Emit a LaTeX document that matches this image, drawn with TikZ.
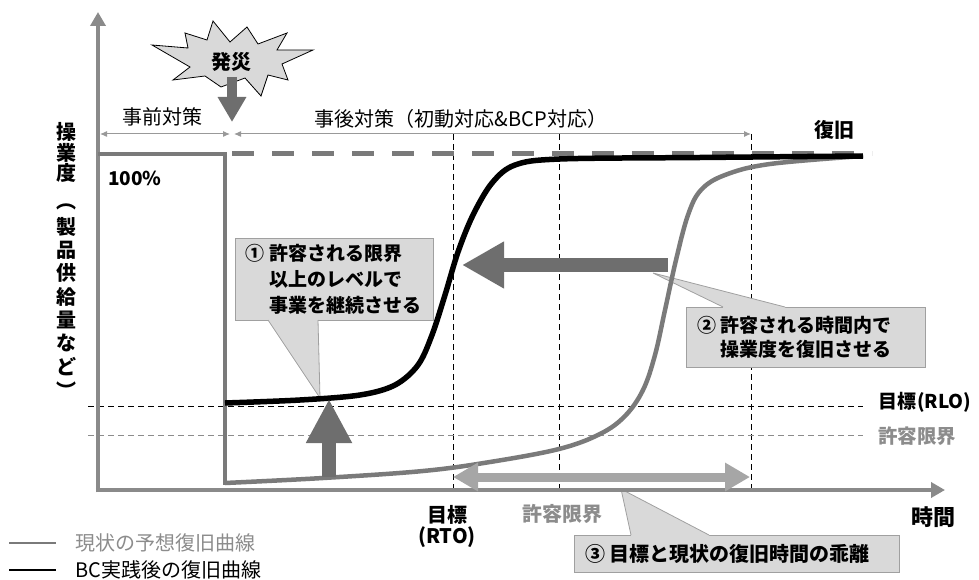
\documentclass[tikz,border=0pt]{standalone}
\usepackage{fontspec}
\setmainfont{Noto Sans CJK JP}
\usetikzlibrary{arrows.meta,calc}
\definecolor{axisgray}{HTML}{8A8A8A}
\definecolor{curvegray}{HTML}{7A7A7A}
\definecolor{arrowdark}{HTML}{6E6E6E}
\definecolor{boxfill}{HTML}{D9D9D9}
\definecolor{boxline}{HTML}{A0A0A0}
\definecolor{lightarrow}{HTML}{A6A6A6}
\definecolor{dimgray}{HTML}{999999}
\definecolor{labelgray}{HTML}{8C8C8C}
\begin{document}
\begin{tikzpicture}[x=1pt,y=-1pt,
 txt/.style={inner sep=0pt,font=\fontsize{20pt}{23pt}\selectfont},
 btxt/.style={inner sep=0pt,font=\fontsize{19pt}{23pt}\selectfont\bfseries},
 axisline/.style={draw=axisgray,line width=4.5pt,-{Triangle[width=15pt,length=14pt]}},
 dimline/.style={draw=dimgray,line width=1pt,{Latex[length=7pt,width=6pt]}-{Latex[length=7pt,width=6pt]}},
 vdash/.style={draw=black,line width=0.9pt,dash pattern=on 6pt off 4pt},
 hdash/.style={line width=1pt,dash pattern=on 6pt off 4pt},
 levelline/.style={draw=curvegray,line width=4.5pt},
 bcurve/.style={draw=black,line width=5.5pt},
 gcurve/.style={draw=curvegray,line width=4.5pt},
 fatarrow/.style={draw=arrowdark,line width=14pt,-{Triangle[width=44pt,length=42pt]}},
 calloutbox/.style={fill=boxfill,draw=boxline,line width=0.8pt,inner ysep=0pt,align=left,font=\fontsize{19pt}{26pt}\selectfont\bfseries},
 tailfill/.style={fill=boxfill},
 tailline/.style={draw=boxline,line width=0.8pt},
 ychar/.style={inner sep=0pt,font=\fontsize{20pt}{20pt}\selectfont\bfseries},
]
\useasboundingbox (0,0) rectangle (979,580);

% dashed guide lines
\coordinate (v1t) at (453,134); \coordinate (v1b) at (453,490);
\coordinate (v2t) at (559,134); \coordinate (v2b) at (559,490);
\coordinate (v3t) at (751,134); \coordinate (v3b) at (751,490);
\draw[vdash] (v1t) -- (v1b);
\draw[vdash] (v2t) -- (v2b);
\draw[vdash] (v3t) -- (v3b);
\coordinate (h1a) at (88,406); \coordinate (h1b) at (863,406);
\coordinate (h2a) at (88,435); \coordinate (h2b) at (863,435);
\draw[hdash,draw=black] (h1a) -- (h1b);
\draw[hdash,draw=labelgray] (h2a) -- (h2b);

% callout boxes
\node[calloutbox,text width=178pt,inner xsep=10pt,minimum height=82pt] (b1) at (334,279)
  {①\hspace{5pt}許容される限界\\\hspace*{24pt}以上のレベルで\\\hspace*{24pt}事業を継続させる};
\coordinate (t1a) at (268,320); \coordinate (t1tip) at (320,398); \coordinate (t1b) at (318,320);
\fill[tailfill] (t1a) -- ++(0,-1.5) -- ($(t1b)+(0,-1.5)$) -- (t1b) -- (t1tip) -- cycle;
\draw[tailline] (t1a) -- (t1tip) -- (t1b);

\node[calloutbox,text width=217pt,inner xsep=11pt,minimum height=60pt,font=\fontsize{19pt}{24pt}\selectfont\bfseries] (b2) at (805.5,337)
  {②\hspace{4pt}許容される時間内で\\\hspace*{23pt}操業度を復旧させる};
\coordinate (t2a) at (723,307); \coordinate (t2tip) at (653,273); \coordinate (t2b) at (785,307);
\fill[tailfill] (t2a) -- ++(0,1.5) -- ($(t2b)+(0,1.5)$) -- (t2b) -- (t2tip) -- cycle;
\draw[tailline] (t2a) -- (t2tip) -- (t2b);

\node[calloutbox,text width=303pt,inner xsep=11pt,minimum height=37pt,font=\fontsize{20pt}{24pt}\selectfont\bfseries] (b3) at (736.5,553.5)
  {③\hspace{4pt}目標と現状の復旧時間の乖離};
\coordinate (t3a) at (631,535); \coordinate (t3tip) at (621,489); \coordinate (t3b) at (709,535);
\fill[tailfill] (t3a) -- ++(0,1.5) -- ($(t3b)+(0,1.5)$) -- (t3b) -- (t3tip) -- cycle;
\draw[tailline] (t3a) -- (t3tip) -- (t3b);

% axes
\coordinate (ytip) at (98,12);
\coordinate (xtip) at (945,490);
\coordinate (ybot) at (98,492.25);
\coordinate (xleft) at (95.75,490);
\draw[axisline] (ybot) -- (ytip);
\draw[axisline] (xleft) -- (xtip);

% 100% level and drop
\coordinate (p100a) at (98,154); \coordinate (p100b) at (225,154); \coordinate (pdrop) at (225,485);
\draw[levelline,line join=miter] (p100a) -- (p100b) -- (pdrop);
\coordinate (d1) at (232,154); \coordinate (d2) at (872,154);
\draw[levelline,line width=5pt,dash pattern=on 22pt off 18pt] (d1) -- (d2);

% dimension arrows
\coordinate (m1) at (100,134); \coordinate (m2) at (230,134); \coordinate (m3) at (234,134); \coordinate (m4) at (751,134);
\draw[dimline] (m1) -- (m2);
\draw[dimline] (m3) -- (m4);

% curves
\draw[gcurve] plot[smooth,tension=0.6] coordinates {(225,483) (323,478) (423,471) (490,462) (559,449) (600,434) (625,416) (643,390) (655,355) (665,310) (676,260) (688,215) (701,190) (725,175) (770,164) (863,156)};
\draw[bcurve] plot[smooth,tension=0.55] coordinates {(225,403) (300,400) (360,395) (395,385) (418,365) (432,335) (445,295) (458,252) (473,215) (492,183) (515,165) (560,159) (700,157.5) (863,156)};

% fat arrows
\coordinate (ua1) at (329,477); \coordinate (ua2) at (329,399);
\draw[fatarrow,-{Triangle[width=43pt,length=44pt]}] (ua1) -- (ua2);
\coordinate (la1) at (668,265); \coordinate (la2) at (462,265);
\draw[fatarrow] (la1) -- (la2);
\coordinate (da1) at (453,477); \coordinate (da2) at (750,477);
\draw[draw=lightarrow,line width=9pt,{Triangle[width=27pt,length=25pt]}-{Triangle[width=27pt,length=25pt]}] (da1) -- (da2);

% starburst
\draw[fill=boxfill,draw=black,line width=0.8pt,line join=miter]
 (213,21) -- (230,42) -- (247,27) -- (258,44) -- (287,33) -- (277,50) -- (313,50) -- (282,64) -- (288,80) -- (268,75) -- (261,96) -- (245,78) -- (221,87) -- (205,76) -- (173,80) -- (190,67) -- (152,45) -- (188,48) -- (185,33) -- (207,40) -- cycle;
\node[btxt,font=\fontsize{20pt}{20pt}\selectfont\bfseries] (hassai) at (231,62) {発災};
\coordinate (sa1) at (232,77); \coordinate (sa2) at (232,122);
\draw[draw=arrowdark,line width=10pt,-{Triangle[width=27pt,length=25pt]}] (sa1) -- (sa2);

% labels
\node[txt,font=\fontsize{20pt}{20pt}\selectfont] (pre) at (162,117) {事前対策};
\node[txt,font=\fontsize{20pt}{20pt}\selectfont] (post) at (461,119) {事後対策（初動対応\&BCP対応）};
\node[btxt,font=\fontsize{20pt}{20pt}\selectfont\bfseries] (fukkyu) at (834,130) {復旧};
\node[btxt] (p100) at (135,178) {100\%};
\node[btxt,anchor=west,font=\fontsize{19pt}{20pt}\selectfont\bfseries] (rlo) at (878,402) {目標\hspace{1pt}(RLO)};
\node[btxt,anchor=west,text=labelgray,font=\fontsize{19.5pt}{20pt}\selectfont\bfseries] (kyoyoR) at (878,436) {許容限界};
\node[btxt,font=\fontsize{20pt}{20pt}\selectfont\bfseries] (rto1) at (447,515) {目標};
\node[btxt,font=\fontsize{20pt}{20pt}\selectfont\bfseries] (rto2) at (447,537) {(RTO)};
\node[btxt,text=labelgray,font=\fontsize{20pt}{20pt}\selectfont\bfseries] (kyoyoB) at (562,514) {許容限界};
\node[btxt,font=\fontsize{22pt}{22pt}\selectfont\bfseries] (jikan) at (933,517) {時間};

% vertical y label
\foreach \c/\yy [count=\i] in {操/132,業/153,度/173,︵/207,製/227,品/250,供/273,給/297,量/320,な/343,ど/367,︶/390}
  \node[ychar] (yl\i) at (66,\yy) {\c};

% legend
\coordinate (lg1a) at (9,543); \coordinate (lg1b) at (56,543);
\draw[draw=curvegray,line width=2.5pt] (lg1a) -- (lg1b);
\node[txt,anchor=west,text=labelgray] (lgt1) at (75,543) {現状の予想復旧曲線};
\coordinate (lg2a) at (9,570); \coordinate (lg2b) at (56,570);
\draw[draw=black,line width=2.5pt] (lg2a) -- (lg2b);
\node[txt,anchor=west] (lgt2) at (75,570) {BC実践後の復旧曲線};
\end{tikzpicture}
\end{document}
